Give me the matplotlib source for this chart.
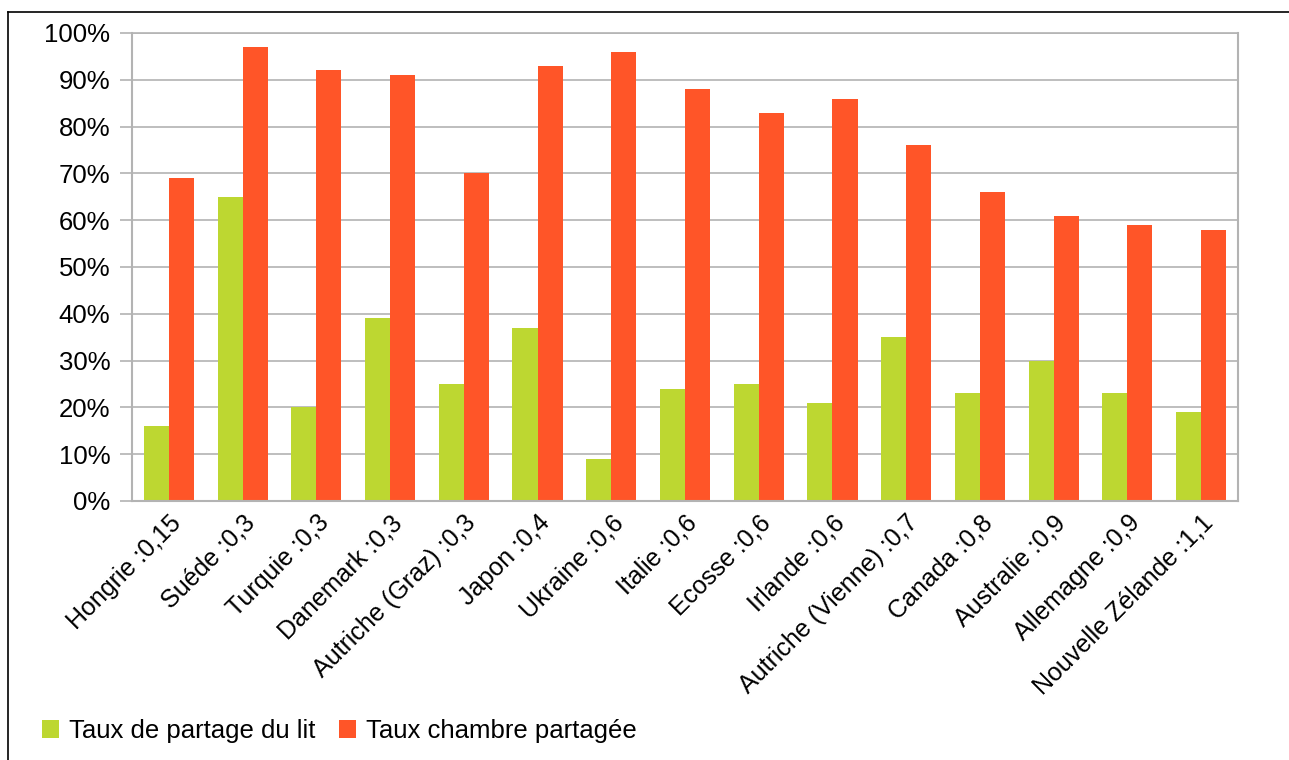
import matplotlib
matplotlib.use("Agg")
import matplotlib.pyplot as plt
from matplotlib.lines import Line2D
import numpy as np

plt.rcParams['font.family'] = ['Liberation Sans', 'DejaVu Sans']

categories = ["Hongrie :0,15", "Suéde :0,3", "Turquie :0,3", "Danemark :0,3",
              "Autriche (Graz) :0,3", "Japon :0,4", "Ukraine :0,6", "Italie :0,6",
              "Ecosse :0,6", "Irlande :0,6", "Autriche (Vienne) :0,7", "Canada :0,8",
              "Australie :0,9", "Allemagne :0,9", "Nouvelle Zélande :1,1"]
lit = [16, 65, 20, 39, 25, 37, 9, 24, 25, 21, 35, 23, 30, 23, 19]
chambre = [69, 97, 92, 91, 70, 93, 96, 88, 83, 86, 76, 66, 61, 59, 58]
series_names = ["Taux de partage du lit", "Taux chambre partagée"]
yticks = [0, 10, 20, 30, 40, 50, 60, 70, 80, 90, 100]
ytick_labels = [f"{v}%" for v in yticks]

green = "#bdd731"
red = "#ff5528"
grid = "#b3b3b3"

fig = plt.figure(figsize=(12.89, 7.6), dpi=100)
ax = fig.add_axes([0.1024, 0.3408, 0.858, 0.6158])

x = np.arange(len(categories))
w = 0.34
ax.bar(x - w/2, lit, width=w, color=green, label=series_names[0], zorder=2)
ax.bar(x + w/2, chambre, width=w, color=red, label=series_names[1], zorder=2)

ax.set_xlim(-0.5, len(categories) - 0.5)
ax.set_ylim(0, 100)
ax.set_yticks(yticks)
ax.set_yticklabels(ytick_labels, fontsize=18.5)
ax.yaxis.grid(True, color=grid, linewidth=1.2, zorder=0)
ax.set_axisbelow(True)
ax.tick_params(axis='y', length=9, width=1.2, color=grid, pad=6.5)
ax.set_xticks(x)
ax.set_xticklabels(categories, rotation=45, ha='right', rotation_mode='anchor', fontsize=18)
ax.tick_params(axis='x', length=0, pad=7)
for s in ['left', 'bottom', 'right']:
    ax.spines[s].set_color(grid)
    ax.spines[s].set_linewidth(1.5)
ax.spines['top'].set_color(grid)
ax.spines['top'].set_linewidth(1.2)

leg = fig.legend(loc='lower left', bbox_to_anchor=(0.015, -0.008), ncol=2, frameon=False,
                 fontsize=18.5, handlelength=0.65, handleheight=0.65, handletextpad=0.4,
                 columnspacing=0.9)

# page border (top and left)
fig.add_artist(Line2D([8/1289, 8/1289], [0, 1 - 12/760], color='black', linewidth=1.2))
fig.add_artist(Line2D([8/1289, 1], [1 - 12/760, 1 - 12/760], color='black', linewidth=1.2))

fig.savefig("out.png", dpi=100)
